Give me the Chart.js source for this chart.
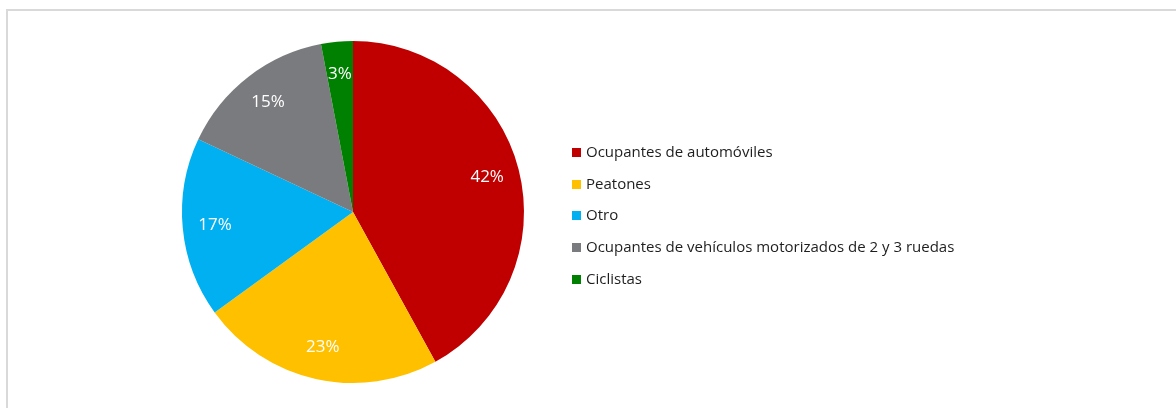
<!DOCTYPE html>
<html>
<head>
<meta charset="utf-8">
<script src="https://cdn.jsdelivr.net/npm/chart.js@4/dist/chart.umd.min.js"></script>
<style>
    html, body { margin: 0; padding: 0; background: #fff; overflow: hidden; }
    #wrap { position: relative; width: 1176px; height: 408px; }
    #frame {
        position: absolute; left: 6px; top: 9px; width: 1200px; height: 420px;
        border-left: 2px solid #d9d9d9; border-top: 2px solid #d9d9d9;
    }
    #pieChart { position: absolute; left: 0; top: 0; }
    #legend { position: absolute; left: 572px; top: 141px; font-family: "Open Sans", sans-serif; font-size: 15px; color: #1e1e1e; }
    .legend-item { height: 31.7px; display: flex; align-items: flex-start; white-space: nowrap; }
    .legend-box { width: 9px; height: 9px; margin-right: 5px; margin-top: 7px; }
</style>
</head>
<body>
<div id="wrap">
    <div id="frame"></div>
    <canvas id="pieChart" width="1176" height="408"></canvas>
    <div id="legend"></div>
</div>
<script>
// 数据
const categories = [
    'Ocupantes de automóviles',
    'Peatones',
    'Otro',
    'Ocupantes de vehículos motorizados de 2 y 3 ruedas',
    'Ciclistas'
];
const shares = [42, 23, 17, 15, 3];
const sliceColors = ['#c00000', '#ffc000', '#00b0f0', '#7a7b7e', '#008000'];

// 扇区内百分比标签
const sliceLabels = {
    id: 'sliceLabels',
    afterDatasetsDraw(chart) {
        const ctx = chart.ctx;
        const meta = chart.getDatasetMeta(0);
        ctx.save();
        ctx.fillStyle = '#ffffff';
        ctx.font = '17px "Open Sans", sans-serif';
        ctx.textAlign = 'center';
        ctx.textBaseline = 'middle';
        meta.data.forEach((arc, i) => {
            const mid = (arc.startAngle + arc.endAngle) / 2;
            const r = arc.outerRadius * 0.81;
            const x = arc.x + Math.cos(mid) * r;
            const y = arc.y + Math.sin(mid) * r;
            ctx.fillText(shares[i] + '%', x, y);
        });
        ctx.restore();
    }
};

const pieChart = new Chart(document.getElementById('pieChart').getContext('2d'), {
    type: 'pie',
    data: {
        labels: categories,
        datasets: [{
            data: shares,
            backgroundColor: sliceColors,
            borderWidth: 0
        }]
    },
    options: {
        responsive: false,
        animation: false,
        layout: {
            padding: { top: 41, bottom: 25, left: 182, right: 652 }
        },
        plugins: {
            legend: { display: false },
            tooltip: { enabled: false }
        }
    },
    plugins: [sliceLabels]
});

// 图例
let html = '';
categories.forEach((name, i) => {
    html += `
        <div class="legend-item">
            <div class="legend-box" style="background:${sliceColors[i]}"></div>
            <span>${name}</span>
        </div>
    `;
});
document.getElementById('legend').innerHTML = html;
</script>
</body>
</html>
